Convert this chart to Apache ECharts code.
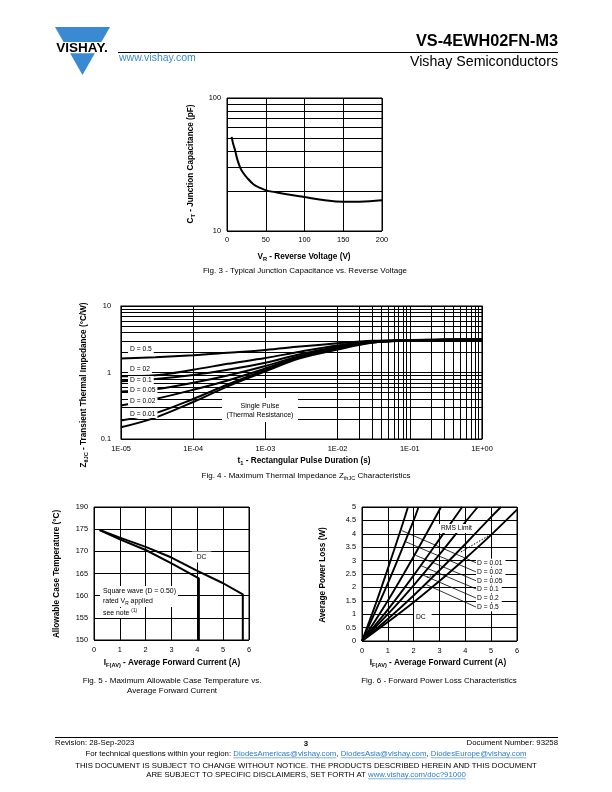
<!DOCTYPE html>
<html><head><meta charset="utf-8">
<script src="https://cdn.jsdelivr.net/npm/echarts@6/dist/echarts.min.js"></script>
<style>html,body{margin:0;padding:0;background:#fff}#c{width:612px;height:792px}</style>
</head><body><div id="c"></div>
<script>
const FF = '"Liberation Sans", Arial, Helvetica, sans-serif';
const BLUE = '#3a8ad3';
const LINK = '#2a7cc7';

// ---------- Fig. 3 : junction capacitance ----------
const capVoltage = [6, 8, 10.7, 13, 17, 21, 25.7, 34, 42, 50.5, 62, 77, 100, 124, 150, 171, 200];
const capPF      = [51, 45, 40, 35, 30, 27.3, 25.2, 22.5, 21.2, 20.2, 19.6, 18.9, 18.0, 17.1, 16.6, 16.6, 17.0];
const capGridPF  = [20, 30, 40, 50, 60, 70, 80, 90];

// ---------- Fig. 4 : thermal impedance ----------
const zthTime   = [1e-5, 3e-5, 1e-4, 3e-4, 1e-3, 3e-3, 1e-2, 3e-2, 1e-1, 3e-1, 1];
const zthD05    = [1.63, 1.70, 1.82, 1.98, 2.18, 2.45, 2.75, 3.00, 3.08, 3.12, 3.14];
const zthD02    = [0.88, 0.91, 1.10, 1.35, 1.65, 2.05, 2.55, 2.93, 3.06, 3.11, 3.14];
const zthD01    = [0.74, 0.80, 0.92, 1.10, 1.40, 1.88, 2.45, 2.90, 3.05, 3.11, 3.14];
const zthD005   = [0.52, 0.56, 0.70, 0.90, 1.25, 1.78, 2.37, 2.87, 3.04, 3.10, 3.13];
const zthD002   = [0.32, 0.40, 0.55, 0.76, 1.15, 1.72, 2.32, 2.84, 3.04, 3.10, 3.13];
const zthD001   = [0.19, 0.245, 0.40, 0.66, 1.09, 1.68, 2.27, 2.82, 3.03, 3.10, 3.13];
const zthSingle = [0.15, 0.21, 0.36, 0.62, 1.04, 1.63, 2.22, 2.80, 3.03, 3.10, 3.12];
const zthXTickLabels = ['1E-05', '1E-04', '1E-03', '1E-02', '1E-01', '1E+00'];
const zthYTickLabels = ['0.1', '1', '10'];
const logMantissas = [2, 3, 4, 5, 6, 7, 8, 9];
const zthXDecades = [1e-5, 1e-4, 1e-3, 1e-2, 1e-1];
const zthYDecades = [0.1, 1];

// ---------- Fig. 5 : allowable case temperature ----------
const tcCurrentDC = [0.22, 1, 2, 3, 4, 5, 5.76, 5.76];
const tcTempDC    = [174.8, 173.1, 171.0, 168.6, 165.6, 162.8, 160.3, 150];
const tcCurrentSQ = [0.22, 1, 2, 3, 4.06, 4.06];
const tcTempSQ    = [174.8, 172.7, 170.3, 167.3, 163.9, 150];
const tcTickValues = [150, 155, 160, 165, 170, 175, 180];
const tcTickLabels = ['150', '155', '160', '165', '170', '175', '190'];

// ---------- Fig. 6 : forward power loss ----------
const plI_DC   = [0, 1, 2, 3, 4, 5, 6];
const plP_DC   = [0, 0.71, 1.45, 2.24, 3.08, 3.96, 4.9];
const plI_D05  = [0, 1, 2, 3, 4, 5, 5.38];
const plP_D05  = [0, 0.82, 1.70, 2.64, 3.62, 4.63, 5];
const plI_D02  = [0, 1, 2, 3, 4, 4.48];
const plP_D02  = [0, 1.0, 2.08, 3.23, 4.44, 5];
const plI_D01  = [0, 1, 2, 3, 3.88];
const plP_D01  = [0, 1.17, 2.45, 3.8, 5];
const plI_D005 = [0, 1, 2, 3.06];
const plP_D005 = [0, 1.5, 3.15, 5];
const plI_D002 = [0, 1, 2, 2.19];
const plP_D002 = [0, 2.15, 4.5, 5];
const plI_D001 = [0, 0.5, 1, 1.5, 1.78];
const plP_D001 = [0, 1.3, 2.7, 4.15, 5];
const plRmsI = [[3.83, 4.95], [2.51, 2.9]];
const plRmsP = [[3.32, 3.96], [2.38, 2.5]];
const plLeaderLabels = ['D = 0.01', 'D = 0.02', 'D = 0.05', 'D = 0.1', 'D = 0.2', 'D = 0.5'];
const plLeaderStartI = [1.54, 1.70, 2.07, 2.26, 2.36, 2.50];
const plLeaderStartP = [4.12, 3.70, 3.20, 2.82, 2.46, 2.10];
const plLeaderEndI   = [4.41, 4.41, 4.41, 4.45, 4.45, 4.45];
const plLeaderEndP   = [2.92, 2.58, 2.25, 1.93, 1.59, 1.25];

const pairs = (xs, ys) => xs.map((x, i) => [x, ys[i]]);
const BLK = '#000';
const TICK = 7.4;

function axisLbl(extra) {
  return Object.assign({ color: BLK, fontSize: TICK, fontFamily: FF }, extra || {});
}
function gridSeries(xi, lines) {
  return {
    type: 'line', xAxisIndex: xi, yAxisIndex: xi, data: [], silent: true, z: 1,
    markLine: {
      silent: true, symbol: ['none', 'none'], animation: false,
      label: { show: false }, emphasis: { disabled: true },
      lineStyle: { color: BLK, width: 1, type: 'solid', opacity: 1 },
      data: lines
    }
  };
}
function curve(xi, xs, ys, w, smooth, extra) {
  return Object.assign({
    type: 'line', xAxisIndex: xi, yAxisIndex: xi, data: pairs(xs, ys),
    showSymbol: false, symbol: 'none', smooth: smooth || false, silent: true, z: 5,
    lineStyle: { color: BLK, width: w }
  }, extra || {});
}

const logGridX = [];
zthXDecades.forEach(d => logMantissas.forEach(m => logGridX.push({ xAxis: m * d })));
const logGridY = [];
zthYDecades.forEach(d => logMantissas.forEach(m => logGridY.push({ yAxis: m * d })));

const splitBlack = { show: true, lineStyle: { color: BLK, width: 1 } };
const noLine = { show: false };

const option = {
  animation: false,
  backgroundColor: '#fff',
  grid: [
    { left: 227, top: 98, width: 155, height: 133, show: true, borderColor: BLK, borderWidth: 1, backgroundColor: 'transparent' },
    { left: 121, top: 306, width: 361, height: 133, show: true, borderColor: BLK, borderWidth: 1.2, backgroundColor: 'transparent' },
    { left: 94, top: 507, width: 155, height: 133, show: true, borderColor: BLK, borderWidth: 1, backgroundColor: 'transparent' },
    { left: 362, top: 507, width: 155, height: 134, show: true, borderColor: BLK, borderWidth: 1, backgroundColor: 'transparent' }
  ],
  xAxis: [
    { gridIndex: 0, type: 'value', min: 0, max: 200, interval: 50, axisLine: noLine, axisTick: noLine,
      splitLine: splitBlack, axisLabel: axisLbl({ margin: 5 }) },
    { gridIndex: 1, type: 'log', logBase: 10, min: 1e-5, max: 1, axisLine: noLine, axisTick: noLine,
      splitLine: splitBlack,
      axisLabel: axisLbl({ margin: 6, formatter: v => zthXTickLabels[Math.round(Math.log10(v)) + 5] }) },
    { gridIndex: 2, type: 'value', min: 0, max: 6, interval: 1, axisLine: noLine, axisTick: noLine,
      splitLine: splitBlack, axisLabel: axisLbl({ margin: 6 }) },
    { gridIndex: 3, type: 'value', min: 0, max: 6, interval: 1, axisLine: noLine, axisTick: noLine,
      splitLine: splitBlack, axisLabel: axisLbl({ margin: 6 }) }
  ],
  yAxis: [
    { gridIndex: 0, type: 'log', logBase: 10, min: 10, max: 100, axisLine: noLine, axisTick: noLine,
      splitLine: splitBlack, axisLabel: axisLbl({ margin: 6 }) },
    { gridIndex: 1, type: 'log', logBase: 10, min: 0.1, max: 10, axisLine: noLine, axisTick: noLine,
      splitLine: splitBlack,
      axisLabel: axisLbl({ margin: 10, formatter: v => zthYTickLabels[Math.round(Math.log10(v)) + 1] }) },
    { gridIndex: 2, type: 'value', min: 150, max: 180, interval: 5, axisLine: noLine, axisTick: noLine,
      splitLine: splitBlack,
      axisLabel: axisLbl({ margin: 6, formatter: v => tcTickLabels[tcTickValues.indexOf(Math.round(v))] }) },
    { gridIndex: 3, type: 'value', min: 0, max: 5, interval: 0.5, axisLine: noLine, axisTick: noLine,
      splitLine: splitBlack, axisLabel: axisLbl({ margin: 6, formatter: v => String(v) }) }
  ],
  series: []
};

// Fig 3
option.series.push(gridSeries(0, capGridPF.map(v => ({ yAxis: v }))));
option.series.push(curve(0, capVoltage, capPF, 2, 0.4));
// Fig 4
option.series.push(gridSeries(1, logGridX.concat(logGridY)));
[zthD05, zthD02, zthD01, zthD005, zthD002, zthD001, zthSingle].forEach(arr =>
  option.series.push(curve(1, zthTime, arr, 2, 0.35)));
// Fig 5
option.series.push(curve(2, tcCurrentDC, tcTempDC, 2));
option.series.push(curve(2, tcCurrentSQ, tcTempSQ, 2));
// Fig 6
[[plI_DC, plP_DC], [plI_D05, plP_D05], [plI_D02, plP_D02], [plI_D01, plP_D01],
 [plI_D005, plP_D005], [plI_D002, plP_D002], [plI_D001, plP_D001]].forEach(p =>
  option.series.push(curve(3, p[0], p[1], 1.9, 0.3)));
plRmsI.forEach((xs, i) => option.series.push(curve(3, xs, plRmsP[i], 1, false,
  { lineStyle: { color: BLK, width: 1, type: [1.5, 1.5] }, z: 6 })));
plLeaderStartI.forEach((x, i) => option.series.push(curve(3, [x, plLeaderEndI[i]],
  [plLeaderStartP[i], plLeaderEndP[i]], 0.8, false, { z: 6 })));

// ---------- texts / graphics ----------
const g = [];
function T(x, y, text, o) {
  o = o || {};
  const el = {
    type: 'text', x: x, y: y, z: 100, silent: true, rotation: o.rot || 0,
    style: {
      text: text, fill: o.fill || BLK,
      font: (o.weight || 'normal') + ' ' + (o.size || 7) + 'px ' + FF,
      align: o.align || 'left', verticalAlign: o.va || 'middle'
    }
  };
  if (o.bg) { el.style.backgroundColor = o.bg; el.style.padding = o.pad || [1, 2, 1, 2]; }
  if (o.rich) el.style.rich = o.rich;
  return el;
}
function richSub(size, weight) {
  const f = (weight || 'normal') + ' ';
  return {
    m: { font: f + size + 'px ' + FF, fill: BLK, lineHeight: size + 3 },
    s: { font: f + (size * 0.7).toFixed(1) + 'px ' + FF, fill: BLK, verticalAlign: 'bottom', lineHeight: size * 0.55 },
    u: { font: f + (size * 0.7).toFixed(1) + 'px ' + FF, fill: BLK, verticalAlign: 'top', lineHeight: size * 0.55 }
  };
}
const NAME = 8.2, CAP = 8;

// header
g.push({ type: 'polygon', z: 100, silent: true, shape: { points: [[55, 27], [110, 27], [101.4, 42], [63.6, 42]] }, style: { fill: BLUE } });
g.push({ type: 'polygon', z: 100, silent: true, shape: { points: [[70.1, 53.3], [94.9, 53.3], [82.5, 75]] }, style: { fill: BLUE } });
g.push(T(82, 48, 'VISHAY.', { size: 13.5, weight: 'bold', align: 'center' }));
g.push(T(119, 58, 'www.vishay.com', { size: 10.5, fill: BLUE }));
g.push(T(558, 41.5, 'VS-4EWH02FN-M3', { size: 16.3, weight: 'bold', align: 'right' }));
g.push({ type: 'line', z: 100, silent: true, shape: { x1: 118, y1: 52.5, x2: 558, y2: 52.5 }, style: { stroke: BLK, lineWidth: 1 } });
g.push(T(558, 62.5, 'Vishay Semiconductors', { size: 14.2, align: 'right' }));

// Fig 3 texts
g.push(T(191, 164, '{m|C}{s|T}{m| - Junction Capacitance (pF)}', { rot: Math.PI / 2, align: 'center', rich: richSub(NAME, 'bold') }));
g.push(T(304, 257, '{m|V}{s|R}{m| - Reverse Voltage (V)}', { align: 'center', rich: richSub(NAME, 'bold') }));
g.push(T(305, 271, 'Fig. 3 - Typical Junction Capacitance vs. Reverse Voltage', { align: 'center', size: CAP }));

// Fig 4 texts
g.push(T(84, 385, '{m|Z}{s|θJC}{m| - Transient Thermal Impedance (°C/W)}', { rot: Math.PI / 2, align: 'center', rich: richSub(NAME, 'bold') }));
g.push(T(304, 461, '{m|t}{s|1}{m| - Rectangular Pulse Duration (s)}', { align: 'center', rich: richSub(NAME, 'bold') }));
g.push(T(306, 476, '{m|Fig. 4 - Maximum Thermal Impedance Z}{s|thJC}{m| Characteristics}', { align: 'center', rich: richSub(CAP, 'normal') }));
[['D = 0.5', 349.5], ['D = 02', 369.5], ['D = 0.1', 380], ['D = 0.05', 390.5], ['D = 0.02', 401.5], ['D = 0.01', 414]].forEach(d =>
  g.push(T(128, d[1], d[0], { size: 6.7, bg: '#fff', pad: [1, 2, 0, 2] })));
g.push({ type: 'rect', z: 99, silent: true, shape: { x: 222, y: 398, width: 76, height: 24 }, style: { fill: '#fff' } });
g.push(T(260, 406, 'Single Pulse', { size: 7, align: 'center' }));
g.push(T(260, 415.5, '(Thermal Resistance)', { size: 7, align: 'center' }));

// Fig 5 texts
g.push(T(57, 574, 'Allowable Case Temperature (°C)', { rot: Math.PI / 2, align: 'center', size: NAME, weight: 'bold' }));
g.push(T(172, 663, '{m|I}{s|F(AV)}{m| - Average Forward Current (A)}', { align: 'center', rich: richSub(NAME, 'bold') }));
g.push(T(172, 681, 'Fig. 5 - Maximum Allowable Case Temperature vs.', { align: 'center', size: CAP }));
g.push(T(172, 690.5, 'Average Forward Current', { align: 'center', size: CAP }));
g.push(T(201.5, 557, 'DC', { size: 6.7, align: 'center', bg: '#fff', pad: [2, 5, 2, 5] }));
g.push({ type: 'rect', z: 99, silent: true, shape: { x: 100, y: 586, width: 78, height: 21 }, style: { fill: '#fff' } });
g.push({ type: 'rect', z: 99, silent: true, shape: { x: 100, y: 608, width: 38, height: 10 }, style: { fill: '#fff' } });
g.push(T(103, 591.5, 'Square wave (D = 0.50)', { size: 6.9 }));
g.push(T(103, 601, '{m|rated V}{s|R}{m| applied}', { rich: richSub(6.9, 'normal') }));
g.push(T(103, 613, '{m|see note }{u|(1)}', { rich: richSub(6.9, 'normal') }));

// Fig 6 texts
g.push(T(323, 575, 'Average Power Loss (W)', { rot: Math.PI / 2, align: 'center', size: NAME, weight: 'bold' }));
g.push(T(438, 663, '{m|I}{s|F(AV)}{m| - Average Forward Current (A)}', { align: 'center', rich: richSub(NAME, 'bold') }));
g.push(T(439, 681, 'Fig. 6 - Forward Power Loss Characteristics', { align: 'center', size: CAP }));
g.push(T(439, 528.5, 'RMS Limit', { size: 6.7, bg: '#fff', pad: [1, 2, 1, 2] }));
g.push(T(414, 617, 'DC', { size: 6.7, bg: '#fff', pad: [1, 6, 1, 2] }));
const plLabelY = [562.7, 571.7, 580.7, 589.3, 598.3, 607.3];
plLeaderLabels.forEach((s, i) => g.push(T(476, plLabelY[i], s, { size: 6.7, bg: '#fff', pad: [1, 3, 0, 1] })));

// footer
const ctx = document.createElement('canvas').getContext('2d');
function tw(s, font) { ctx.font = font; return ctx.measureText(s).width; }
const FOOT = 7.8;
g.push({ type: 'line', z: 100, silent: true, shape: { x1: 55, y1: 737.5, x2: 558, y2: 737.5 }, style: { stroke: BLK, lineWidth: 1 } });
g.push(T(55, 742.5, 'Revision: 28-Sep-2023', { size: FOOT }));
g.push(T(306, 743.5, '3', { size: FOOT, weight: 'bold', align: 'center' }));
g.push(T(558, 742.5, 'Document Number: 93258', { size: FOOT, align: 'right' }));
function runLine(cx, y, segs, size) {
  const font = 'normal ' + size + 'px ' + FF;
  const total = segs.reduce((a, s) => a + tw(s[0], font), 0);
  let x = cx - total / 2;
  segs.forEach(s => {
    const w = tw(s[0], font);
    g.push(T(x, y, s[0], { size: size, fill: s[1] ? LINK : BLK }));
    if (s[1]) g.push({ type: 'line', z: 100, silent: true, shape: { x1: x, y1: y + 4.3, x2: x + w, y2: y + 4.3 }, style: { stroke: LINK, lineWidth: 0.6 } });
    x += w;
  });
}
runLine(306, 753.5, [['For technical questions within your region: ', 0], ['DiodesAmericas@vishay.com', 1], [', ', 0],
  ['DiodesAsia@vishay.com', 1], [', ', 0], ['DiodesEurope@vishay.com', 1]], FOOT);
runLine(306, 765.5, [['THIS DOCUMENT IS SUBJECT TO CHANGE WITHOUT NOTICE. THE PRODUCTS DESCRIBED HEREIN AND THIS DOCUMENT', 0]], FOOT);
runLine(306, 774.5, [['ARE SUBJECT TO SPECIFIC DISCLAIMERS, SET FORTH AT ', 0], ['www.vishay.com/doc?91000', 1]], FOOT);

option.graphic = { elements: g };

const chart = echarts.init(document.getElementById('c'), null, { renderer: 'canvas', width: 612, height: 792 });
chart.setOption(option);
</script></body></html>
